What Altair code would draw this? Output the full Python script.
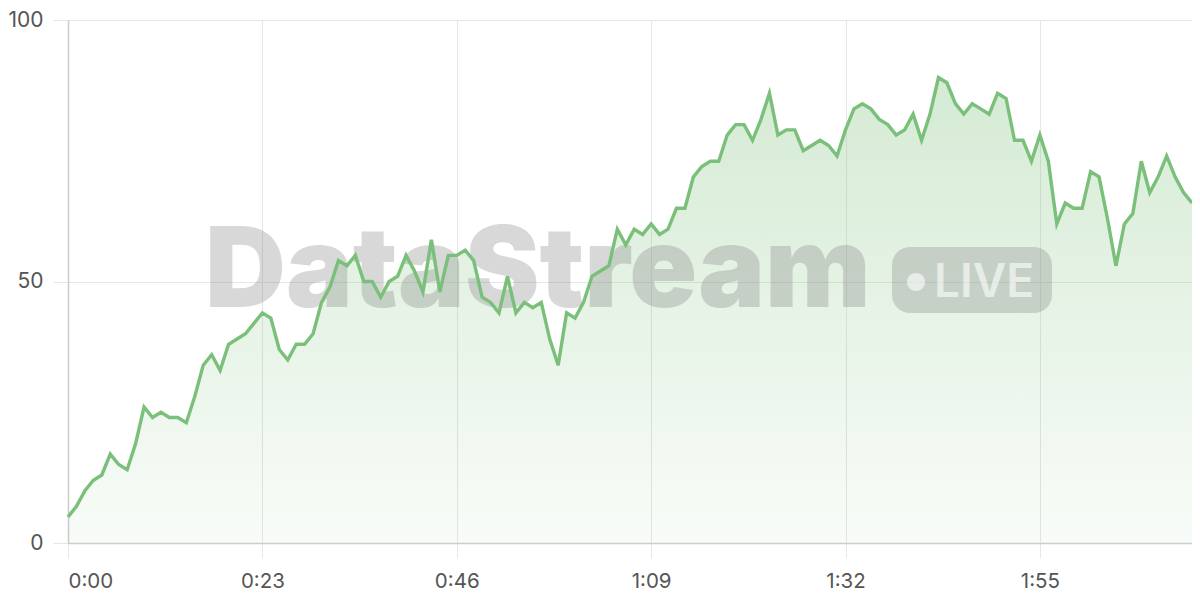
import altair as alt
import pandas as pd

# ---- data (one reading per second) ----
seconds = list(range(134))
values = [
    5, 7, 10, 12, 13, 17, 15, 14, 19, 26,
    24, 25, 24, 24, 23, 28, 34, 36, 33, 38,
    39, 40, 42, 44, 43, 37, 35, 38, 38, 40,
    46, 49, 54, 53, 55, 50, 50, 47, 50, 51,
    55, 52, 48, 58, 48, 55, 55, 56, 54, 47,
    46, 44, 51, 44, 46, 45, 46, 39, 34, 44,
    43, 46, 51, 52, 53, 60, 57, 60, 59, 61,
    59, 60, 64, 64, 70, 72, 73, 73, 78, 80,
    80, 77, 81, 86, 78, 79, 79, 75, 76, 77,
    76, 74, 79, 83, 84, 83, 81, 80, 78, 79,
    82, 77, 82, 89, 88, 84, 82, 84, 83, 82,
    86, 85, 77, 77, 73, 78, 73, 61, 65, 64,
    64, 71, 70, 62, 53, 61, 63, 73, 67, 70,
    74, 70, 67, 65,
]
x_ticks = [0, 23, 46, 69, 92, 115]
y_ticks = [0, 50, 100]
watermark_text = ["DataStream"]
badge_text = ["LIVE"]

df = pd.DataFrame({"t": seconds, "v": values})

LINE = "#7abf7a"
FONT = "Inter"

x_enc = alt.X(
    "t:Q",
    scale=alt.Scale(domain=[0, 133], nice=False, zero=False),
    axis=alt.Axis(
        values=x_ticks,
        labelExpr="floor(datum.value/60) + ':' + (datum.value % 60 < 10 ? '0' : '') + (datum.value % 60)",
        title=None,
        grid=True,
        gridColor="#e6e6e6",
        domainColor="#cccccc",
        domainWidth=1.5,
        tickColor="#e6e6e6",
        tickSize=15,
        labelPadding=13,
        labelFontSize=20.5,
        labelColor="#555555",
        labelFont=FONT,
    ),
)
y_enc = alt.Y(
    "v:Q",
    scale=alt.Scale(domain=[0, 100], nice=False),
    axis=alt.Axis(
        values=y_ticks,
        title=None,
        grid=True,
        gridColor="#e6e6e6",
        domainColor="#cccccc",
        domainWidth=1.5,
        tickColor="#e6e6e6",
        tickSize=15,
        labelPadding=10,
        labelFontSize=21,
        labelColor="#555555",
        labelFont=FONT,
    ),
)

base = alt.Chart(df)

area = base.mark_area(
    color=alt.Gradient(
        gradient="linear",
        stops=[
            alt.GradientStop(color="rgba(122,191,122,0.32)", offset=0),
            alt.GradientStop(color="rgba(122,191,122,0.05)", offset=1),
        ],
        x1=0, x2=0, y1=0, y2=1,
    ),
    interpolate="linear",
).encode(x=x_enc, y=y_enc)

line = base.mark_line(color=LINE, strokeWidth=3.4, interpolate="linear").encode(
    x="t:Q", y="v:Q"
)

wm_df = pd.DataFrame({"label": watermark_text})
wm = alt.Chart(wm_df).mark_text(
    font=FONT, fontWeight=900, fontSize=112, color="#808080", opacity=0.3,
    align="left", baseline="alphabetic",
).encode(text="label:N", x=alt.value(137), y=alt.value(287))

badge = alt.Chart(wm_df).mark_rect(
    color="#808080", opacity=0.3, cornerRadius=18
).encode(x=alt.value(824), x2=alt.value(984), y=alt.value(227), y2=alt.value(293))

dot = alt.Chart(wm_df).mark_circle(
    color="#ffffff", opacity=0.6, size=330
).encode(x=alt.value(848), y=alt.value(262))

live_df = pd.DataFrame({"label": badge_text})
live = alt.Chart(live_df).mark_text(
    font=FONT, fontWeight=600, fontSize=46, color="#ffffff", opacity=0.6,
    align="left", baseline="alphabetic",
).encode(text="label:N", x=alt.value(866), y=alt.value(277))

chart = alt.layer(area, wm, badge, dot, live, line).properties(
    width=1124,
    height=523,
    autosize=alt.AutoSizeParams(type="none"),
    padding={"left": 60, "top": 12, "right": 0, "bottom": 48},
).configure_view(stroke=None).configure(background="#ffffff")

chart.save("out.html", embed_options={"renderer": "svg", "actions": False})
